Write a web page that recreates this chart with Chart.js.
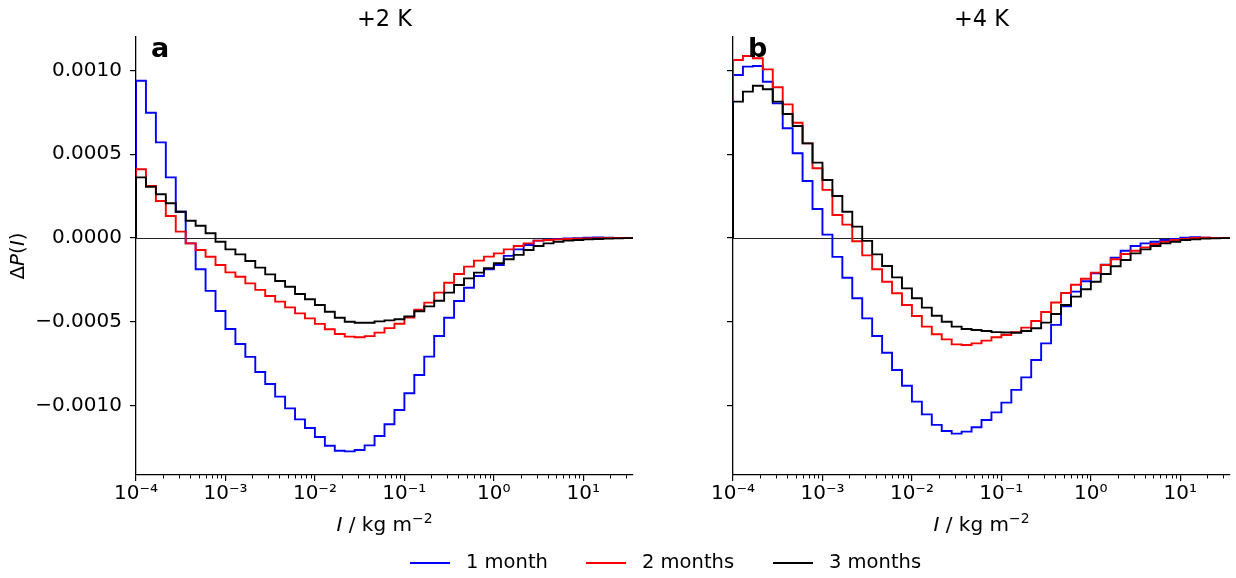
<!DOCTYPE html>
<html><head><meta charset="utf-8">
<script src="https://cdn.jsdelivr.net/npm/chart.js@4.4.0/dist/chart.umd.min.js"></script>
<style>
html,body{margin:0;padding:0;background:#fff;}
#wrap{position:relative;width:1236px;height:578px;overflow:hidden;background:#fff;font-family:"DejaVu Sans",sans-serif;color:#000;}
canvas{position:absolute;top:0;}
#legend{position:absolute;top:550px;left:0;width:1236px;height:24px;font-size:19.5px;}
.item{position:absolute;top:0;height:24px;line-height:24px;white-space:nowrap;}
.sw{position:absolute;top:12px;width:40px;height:0;border-top:2px solid;}
</style></head>
<body><div id="wrap">
<canvas id="ca" width="640" height="578" style="left:0;width:640px;height:578px"></canvas>
<canvas id="cb" width="596" height="578" style="left:640px;width:596px;height:578px"></canvas>
<div id="legend">
  <div class="sw" style="left:410px;border-color:#0000ff"></div><div class="item" style="left:466px">1 month</div>
  <div class="sw" style="left:586px;border-color:#ff0000"></div><div class="item" style="left:642px">2 months</div>
  <div class="sw" style="left:773px;border-color:#000000"></div><div class="item" style="left:829px">3 months</div>
</div>
</div>
<script>
// ---- data ----
const BIN_COUNT = 50;
const FIRST_EDGE_EXP = -4;
const BINS_PER_DECADE = 9;
const edges = Array.from({length: BIN_COUNT + 1}, (_, i) => Math.pow(10, FIRST_EDGE_EXP + i / BINS_PER_DECADE));

const seriesNames = ['1 month', '2 months', '3 months'];
const seriesColors = ['#0000ff', '#ff0000', '#000000'];
const panelTitles = ['+2 K', '+4 K'];
const panelLetters = ['a', 'b'];
const yTickValues = [-0.001, -0.0005, 0, 0.0005, 0.001];
const xMajorTickExps = [-4, -3, -2, -1, 0, 1];

const dP2K_1month = [0.000939, 0.000748, 0.000571, 0.000362, 0.000157, -0.000032, -0.000187, -0.000316, -0.000436, -0.000543, -0.000633, -0.000710, -0.000800, -0.000872, -0.000947, -0.001017, -0.001083, -0.001134, -0.001188, -0.001240, -0.001270, -0.001274, -0.001266, -0.001238, -0.001182, -0.001112, -0.001027, -0.000927, -0.000818, -0.000708, -0.000585, -0.000476, -0.000376, -0.000297, -0.000227, -0.000187, -0.000161, -0.000107, -0.000068, -0.000042, -0.000016, -0.000010, -0.000006, -0.000003, -0.000001, 0.000002, 0.000003, 0.000002, 0.000000, 0.000000];
const dP2K_2months = [0.000410, 0.000310, 0.000221, 0.000131, 0.000038, -0.000032, -0.000072, -0.000112, -0.000161, -0.000205, -0.000231, -0.000271, -0.000310, -0.000346, -0.000380, -0.000414, -0.000450, -0.000480, -0.000513, -0.000545, -0.000573, -0.000589, -0.000593, -0.000586, -0.000565, -0.000538, -0.000512, -0.000475, -0.000428, -0.000386, -0.000326, -0.000267, -0.000215, -0.000171, -0.000135, -0.000111, -0.000092, -0.000068, -0.000048, -0.000032, -0.000016, -0.000012, -0.000008, -0.000006, -0.000004, -0.000002, -0.000001, 0.000000, 0.000000, 0.000000];
const dP2K_3months = [0.000362, 0.000306, 0.000261, 0.000207, 0.000157, 0.000103, 0.000073, 0.000028, -0.000022, -0.000068, -0.000098, -0.000137, -0.000177, -0.000217, -0.000257, -0.000291, -0.000334, -0.000366, -0.000400, -0.000440, -0.000476, -0.000500, -0.000506, -0.000506, -0.000498, -0.000492, -0.000485, -0.000468, -0.000437, -0.000408, -0.000375, -0.000326, -0.000281, -0.000241, -0.000207, -0.000181, -0.000151, -0.000127, -0.000101, -0.000072, -0.000048, -0.000032, -0.000022, -0.000016, -0.000012, -0.000008, -0.000006, -0.000004, -0.000002, -0.000001];

const dP4K_1month = [0.000973, 0.001023, 0.001027, 0.000933, 0.000804, 0.000655, 0.000506, 0.000340, 0.000173, 0.000020, -0.000113, -0.000237, -0.000360, -0.000480, -0.000585, -0.000685, -0.000788, -0.000882, -0.000977, -0.001053, -0.001116, -0.001152, -0.001168, -0.001156, -0.001130, -0.001087, -0.001041, -0.000983, -0.000907, -0.000832, -0.000728, -0.000629, -0.000519, -0.000408, -0.000320, -0.000258, -0.000211, -0.000159, -0.000117, -0.000076, -0.000048, -0.000032, -0.000022, -0.000012, -0.000006, 0.000002, 0.000004, 0.000002, 0.000000, 0.000000];
const dP4K_2months = [0.001063, 0.001087, 0.001073, 0.001007, 0.000900, 0.000798, 0.000688, 0.000565, 0.000416, 0.000287, 0.000137, 0.000080, -0.000019, -0.000104, -0.000187, -0.000261, -0.000330, -0.000400, -0.000466, -0.000529, -0.000575, -0.000605, -0.000635, -0.000639, -0.000629, -0.000613, -0.000593, -0.000579, -0.000562, -0.000535, -0.000496, -0.000442, -0.000385, -0.000328, -0.000279, -0.000243, -0.000207, -0.000161, -0.000127, -0.000096, -0.000076, -0.000056, -0.000036, -0.000022, -0.000012, -0.000006, 0.000000, 0.000002, 0.000000, 0.000000];
const dP4K_3months = [0.000814, 0.000874, 0.000909, 0.000888, 0.000814, 0.000740, 0.000669, 0.000565, 0.000450, 0.000346, 0.000251, 0.000157, 0.000068, -0.000017, -0.000098, -0.000167, -0.000235, -0.000301, -0.000360, -0.000416, -0.000464, -0.000500, -0.000529, -0.000543, -0.000549, -0.000555, -0.000562, -0.000564, -0.000566, -0.000555, -0.000539, -0.000505, -0.000454, -0.000400, -0.000350, -0.000306, -0.000261, -0.000215, -0.000169, -0.000131, -0.000092, -0.000068, -0.000048, -0.000032, -0.000022, -0.000012, -0.000008, -0.000004, -0.000002, -0.000001];

// ---- helpers ----
const FONT = '"DejaVu Sans", sans-serif';
const TICK_SIZE = 20;
const LABEL_SIZE = 20;
Chart.defaults.font.family = FONT;
Chart.defaults.color = '#000';
const SUP = {'-': '\u207B', '0': '\u2070', '1': '\u00B9', '2': '\u00B2', '3': '\u00B3', '4': '\u2074', '5': '\u2075'};
function supText(s) { return String(s).split('').map(c => SUP[c] || c).join(''); }
function xTickLabel(v) { const e = Math.round(Math.log10(v)); return '10' + supText(e); }
function yTickLabel(v) { return v.toFixed(4).replace('-', '\u2212'); }

function stepPoints(vals) {
  const pts = [{x: edges[0], y: 0}];
  vals.forEach((v, i) => pts.push({x: edges[i], y: v}));
  pts.push({x: edges[vals.length], y: vals[vals.length - 1]});
  return pts;
}

function drawPieces(ctx, pieces, x, y, align) {
  let total = 0;
  pieces.forEach(p => { ctx.font = p.font; p.w = ctx.measureText(p.t).width; total += p.w; });
  let cx = align === 'center' ? x - total / 2 : x;
  pieces.forEach(p => { ctx.font = p.font; ctx.fillText(p.t, cx, y + (p.dy || 0)); cx += p.w; });
}

const decor = {
  id: 'decor',
  beforeDatasetsDraw(chart) {
    const {ctx, chartArea: a, scales: {y}} = chart;
    const py = Math.round(y.getPixelForValue(0)) + 0.5;
    ctx.save();
    ctx.strokeStyle = '#222'; ctx.lineWidth = 1;
    ctx.beginPath(); ctx.moveTo(a.left, py); ctx.lineTo(a.right, py); ctx.stroke();
    ctx.restore();
  },
  afterDraw(chart, args, opts) {
    const {ctx, chartArea: a, scales: {x}} = chart;
    const p = opts.panel;
    const cx = (a.left + a.right) / 2;
    ctx.save();
    // minor x ticks
    ctx.strokeStyle = '#000'; ctx.lineWidth = 1;
    for (const e of xMajorTickExps) {
      for (let m = 2; m <= 9; m++) {
        const v = m * Math.pow(10, e);
        if (v > x.max) continue;
        const px = Math.round(x.getPixelForValue(v)) + 0.5;
        ctx.beginPath(); ctx.moveTo(px, a.bottom); ctx.lineTo(px, a.bottom + 3.5); ctx.stroke();
      }
    }
    ctx.fillStyle = '#000';
    ctx.textBaseline = 'alphabetic';
    // title
    ctx.textAlign = 'center';
    ctx.font = '22.5px ' + FONT;
    ctx.fillText(panelTitles[p], cx, 26);
    // panel letter
    ctx.textAlign = 'left';
    ctx.font = 'bold 27px ' + FONT;
    ctx.fillText(panelLetters[p], a.left + 15, 57);
    // x-axis title
    drawPieces(ctx, [
      {t: 'I', font: 'italic ' + LABEL_SIZE + 'px ' + FONT},
      {t: ' / kg m', font: LABEL_SIZE + 'px ' + FONT},
      {t: '\u22122', font: '14px ' + FONT, dy: -8}
    ], cx, 531, 'center');
    // y-axis title
    if (opts.yTitle) {
      ctx.translate(19, (a.top + a.bottom) / 2);
      ctx.rotate(-Math.PI / 2);
      ctx.textBaseline = 'middle';
      drawPieces(ctx, [
        {t: '\u0394', font: LABEL_SIZE + 'px ' + FONT},
        {t: 'P', font: 'italic ' + LABEL_SIZE + 'px ' + FONT},
        {t: '(', font: LABEL_SIZE + 'px ' + FONT},
        {t: 'I', font: 'italic ' + LABEL_SIZE + 'px ' + FONT},
        {t: ')', font: LABEL_SIZE + 'px ' + FONT}
      ], 0, 0, 'center');
    }
    ctx.restore();
  }
};

function makeChart(id, panel, seriesList, yAxisWidth, padRight, showYLabels) {
  return new Chart(document.getElementById(id), {
    type: 'line',
    data: {
      datasets: seriesList.map((vals, k) => ({
        label: seriesNames[k], data: stepPoints(vals),
        borderColor: seriesColors[k], backgroundColor: seriesColors[k],
        borderWidth: 1.9, pointRadius: 0, stepped: 'before', fill: false,
        order: 3 - k
      }))
    },
    options: {
      responsive: false, animation: false, events: [],
      layout: {padding: {top: 37, right: padRight, left: 0, bottom: 0}},
      plugins: {legend: {display: false}, tooltip: {enabled: false}, title: {display: false},
        decor: {panel: panel, yTitle: showYLabels}},
      scales: {
        x: {
          type: 'logarithmic', min: edges[0], max: edges[BIN_COUNT],
          border: {display: true, color: '#000', width: 1.3},
          grid: {display: true, drawOnChartArea: false, drawTicks: true, tickLength: 6, color: '#000', lineWidth: 1.2},
          afterBuildTicks: s => { s.ticks = xMajorTickExps.map(e => ({value: Math.pow(10, e), major: true})); },
          ticks: {autoSkip: false, maxRotation: 0, minRotation: 0, padding: 1, color: '#000',
            font: {family: FONT, size: TICK_SIZE}, callback: v => xTickLabel(v)},
          afterFit: s => { s.height = 578 - 475; }
        },
        y: {
          type: 'linear', min: -0.001415, max: 0.0012,
          border: {display: true, color: '#000', width: 1.3},
          grid: {display: true, drawOnChartArea: false, drawTicks: true, tickLength: 6, color: '#000', lineWidth: 1.2},
          afterBuildTicks: s => { s.ticks = yTickValues.map(v => ({value: v})); },
          ticks: {autoSkip: false, padding: 8, color: '#000', font: {family: FONT, size: TICK_SIZE},
            callback: v => showYLabels ? yTickLabel(v) : ''},
          afterFit: s => { s.width = yAxisWidth; }
        }
      }
    },
    plugins: [decor]
  });
}

makeChart('ca', 0, [dP2K_1month, dP2K_2months, dP2K_3months], 136, 7, true);
makeChart('cb', 1, [dP4K_1month, dP4K_2months, dP4K_3months], 93, 6, false);
</script>
</body></html>
